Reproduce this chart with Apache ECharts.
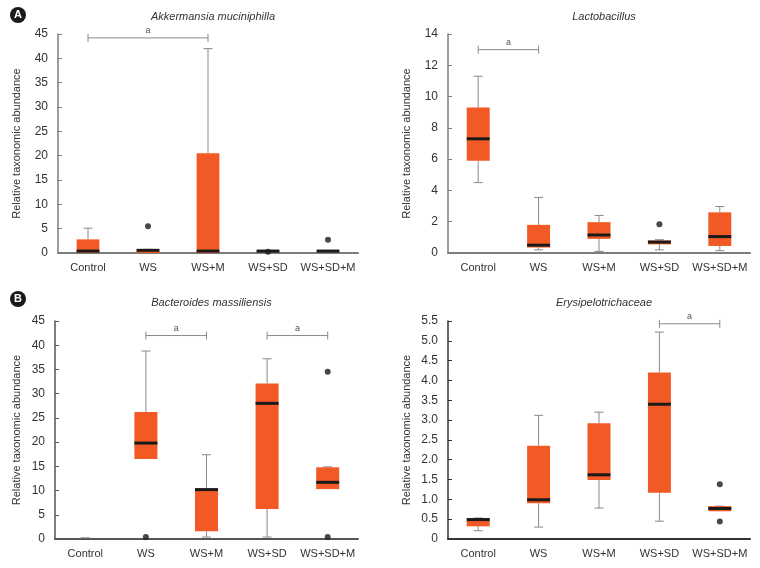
<!DOCTYPE html>
<html>
<head>
<meta charset="utf-8">
<script src="https://cdn.jsdelivr.net/npm/echarts@6/dist/echarts.min.js"></script>
<style>
  html, body { margin: 0; padding: 0; background: #fff; }
  #chart { width: 760px; height: 568px; }
</style>
</head>
<body>
<div id="chart"></div>
<script>
// groups on the x axis
const categories = ['Control', 'WS', 'WS+M', 'WS+SD', 'WS+SD+M'];

// Akkermansia muciniphilla
const akkMin = [0, 0, 0, 0.2, 0.3];
const akkQ1 = [0, 0, 0, 0.3, 0.3];
const akkMed = [0.4, 0.55, 0.4, 0.4, 0.4];
const akkQ3 = [2.8, 0.75, 20.5, 0.5, 0.5];
const akkMax = [5.1, 0.75, 42.0, 0.5, 0.5];
const akkOut = [[1, 5.5], [3, 0.25], [4, 2.7]];
const akkSig = [[0, 2, 44.2]];

// Lactobacillus
const lacMin = [4.5, 0.2, 0.1, 0.2, 0.15];
const lacQ1 = [5.9, 0.35, 0.9, 0.55, 0.45];
const lacMed = [7.3, 0.5, 1.15, 0.7, 1.05];
const lacQ3 = [9.3, 1.8, 1.97, 0.8, 2.6];
const lacMax = [11.3, 3.55, 2.4, 0.85, 2.97];
const lacOut = [[3, 1.84]];
const lacSig = [[0, 1, 13]];

// Bacteroides massiliensis
const bacMin = [0.25, 16.5, 0.4, 0.4, 10.3];
const bacQ1 = [0.25, 16.5, 1.6, 6.2, 10.3];
const bacMed = [0.25, 19.8, 10.2, 28.0, 11.7];
const bacQ3 = [0.25, 26.2, 10.3, 32.1, 14.8];
const bacMax = [0.25, 38.8, 17.4, 37.2, 14.9];
const bacOut = [[1, 0.4], [4, 34.5], [4, 0.4]];
const bacSig = [[1, 2, 42], [3, 4, 42]];

// Erysipelotrichaceae
const eryMin = [0.21, 0.3, 0.78, 0.45, 0.7];
const eryQ1 = [0.32, 0.9, 1.49, 1.17, 0.7];
const eryMed = [0.49, 0.99, 1.62, 3.4, 0.77];
const eryQ3 = [0.53, 2.35, 2.92, 4.2, 0.83];
const eryMax = [0.53, 3.12, 3.2, 5.22, 0.83];
const eryOut = [[4, 1.38], [4, 0.44]];
const erySig = [[3, 4, 5.43]];

const FONT = "'Liberation Sans', Arial, sans-serif";
const ORANGE = '#F15A24';
const WHISKER = '#8a8a8a';

const chart = echarts.init(document.getElementById('chart'));

function boxRows(mn, q1, md, q3, mx) {
  return categories.map((c, i) => [i, mn[i], q1[i], md[i], q3[i], mx[i]]);
}

function renderBox(params, api) {
  const x = api.value(0);
  const pMin = api.coord([x, api.value(1)]);
  const pQ1 = api.coord([x, api.value(2)]);
  const pMed = api.coord([x, api.value(3)]);
  const pQ3 = api.coord([x, api.value(4)]);
  const pMax = api.coord([x, api.value(5)]);
  const bw = api.size([1, 0])[0] * 0.38;
  const cx = pMed[0];
  const capW = 9;
  const kids = [];
  const wStyle = { stroke: WHISKER, lineWidth: 1 };
  if (pMax[1] < pQ3[1] - 0.5) {
    kids.push({ type: 'line', shape: { x1: cx, y1: pMax[1], x2: cx, y2: pQ3[1] }, style: wStyle });
  }
  kids.push({ type: 'line', shape: { x1: cx - capW / 2, y1: pMax[1], x2: cx + capW / 2, y2: pMax[1] }, style: wStyle });
  if (pMin[1] > pQ1[1] + 0.5) {
    kids.push({ type: 'line', shape: { x1: cx, y1: pQ1[1], x2: cx, y2: pMin[1] }, style: wStyle });
    kids.push({ type: 'line', shape: { x1: cx - capW / 2, y1: pMin[1], x2: cx + capW / 2, y2: pMin[1] }, style: wStyle });
  }
  if (api.value(4) > api.value(2)) {
    kids.push({
      type: 'rect',
      shape: { x: cx - bw / 2, y: pQ3[1], width: bw, height: Math.max(pQ1[1] - pQ3[1], 1) },
      style: { fill: ORANGE }
    });
    kids.push({
      type: 'line',
      shape: { x1: cx - bw / 2, y1: pMed[1], x2: cx + bw / 2, y2: pMed[1] },
      style: { stroke: '#1a1a1a', lineWidth: 3 }
    });
  }
  return { type: 'group', children: kids };
}

function renderSig(params, api) {
  const a = api.coord([api.value(0), api.value(2)]);
  const b = api.coord([api.value(1), api.value(2)]);
  const st = { stroke: '#8a8a8a', lineWidth: 1 };
  return {
    type: 'group',
    children: [
      { type: 'line', shape: { x1: a[0], y1: a[1], x2: b[0], y2: b[1] }, style: st },
      { type: 'line', shape: { x1: a[0], y1: a[1] - 4, x2: a[0], y2: a[1] + 4 }, style: st },
      { type: 'line', shape: { x1: b[0], y1: b[1] - 4, x2: b[0], y2: b[1] + 4 }, style: st },
      {
        type: 'text',
        style: {
          text: 'a', x: (a[0] + b[0]) / 2, y: a[1] - 3,
          align: 'center', verticalAlign: 'bottom',
          fill: '#555', font: '9px ' + FONT
        }
      }
    ]
  };
}

const grids = [
  { left: 58, top: 34, width: 300, height: 219 },
  { left: 448, top: 34, width: 302, height: 219 },
  { left: 55, top: 321, width: 303, height: 218 },
  { left: 448, top: 321, width: 302, height: 218 }
];

const panels = [
  { title: 'Akkermansia muciniphilla', max: 45, step: 5, rows: boxRows(akkMin, akkQ1, akkMed, akkQ3, akkMax), out: akkOut, sig: akkSig, axisColor: '#7d7d7d' },
  { title: 'Lactobacillus', max: 14, step: 2, rows: boxRows(lacMin, lacQ1, lacMed, lacQ3, lacMax), out: lacOut, sig: lacSig, axisColor: '#7d7d7d' },
  { title: 'Bacteroides massiliensis', max: 45, step: 5, rows: boxRows(bacMin, bacQ1, bacMed, bacQ3, bacMax), out: bacOut, sig: bacSig, axisColor: '#555' },
  { title: 'Erysipelotrichaceae', max: 5.5, step: 0.5, rows: boxRows(eryMin, eryQ1, eryMed, eryQ3, eryMax), out: eryOut, sig: erySig, axisColor: '#333', decimals: true }
];

const titles = panels.map((p, i) => ({
  text: p.title,
  left: grids[i].left + grids[i].width / 2,
  top: i < 2 ? 6 : 292,
  textAlign: 'center',
  textStyle: { fontFamily: FONT, fontStyle: 'italic', fontWeight: 'normal', fontSize: 11, color: '#333' }
}));

const xAxes = panels.map((p, i) => ({
  type: 'category',
  gridIndex: i,
  data: categories,
  axisLine: { lineStyle: { color: p.axisColor, width: 2 } },
  axisTick: { show: false },
  axisLabel: { color: '#333', fontFamily: FONT, fontSize: 11, margin: 9, interval: 0 }
}));

const yAxes = panels.map((p, i) => ({
  type: 'value',
  gridIndex: i,
  min: 0,
  max: p.max,
  interval: p.step,
  name: 'Relative taxonomic abundance',
  nameLocation: 'middle',
  nameGap: i === 2 ? 33 : 36,
  nameTextStyle: { color: '#333', fontFamily: FONT, fontSize: 11 },
  axisLine: { show: true, lineStyle: { color: p.axisColor, width: 1.5 } },
  axisTick: { show: true, inside: true, length: 4, lineStyle: { color: p.axisColor } },
  splitLine: { show: false },
  axisLabel: {
    color: '#333', fontFamily: FONT, fontSize: 12, margin: 10,
    formatter: v => (p.decimals && v !== 0 ? v.toFixed(1) : String(v))
  }
}));

const series = [];
panels.forEach((p, i) => {
  series.push({
    type: 'custom', xAxisIndex: i, yAxisIndex: i,
    renderItem: renderBox, data: p.rows,
    encode: { x: 0, y: [1, 2, 3, 4, 5] }, silent: true, z: 2
  });
  series.push({
    type: 'scatter', xAxisIndex: i, yAxisIndex: i,
    data: p.out, symbolSize: 6, itemStyle: { color: '#1a1a1a' }, silent: true, z: 3
  });
  series.push({
    type: 'custom', xAxisIndex: i, yAxisIndex: i,
    renderItem: renderSig, data: p.sig,
    encode: { x: [0, 1], y: 2 }, silent: true, z: 3
  });
});

function badge(letter, cx, cy) {
  return [
    { type: 'circle', shape: { cx: cx, cy: cy, r: 8 }, style: { fill: '#1a1a1a' } },
    {
      type: 'text', x: cx, y: cy,
      style: { text: letter, fill: '#fff', font: 'bold 11px Arial, sans-serif', align: 'center', verticalAlign: 'middle' }
    }
  ];
}

chart.setOption({
  animation: false,
  title: titles,
  grid: grids,
  xAxis: xAxes,
  yAxis: yAxes,
  series: series,
  graphic: badge('A', 18, 15).concat(badge('B', 18, 299))
});
</script>
</body>
</html>
